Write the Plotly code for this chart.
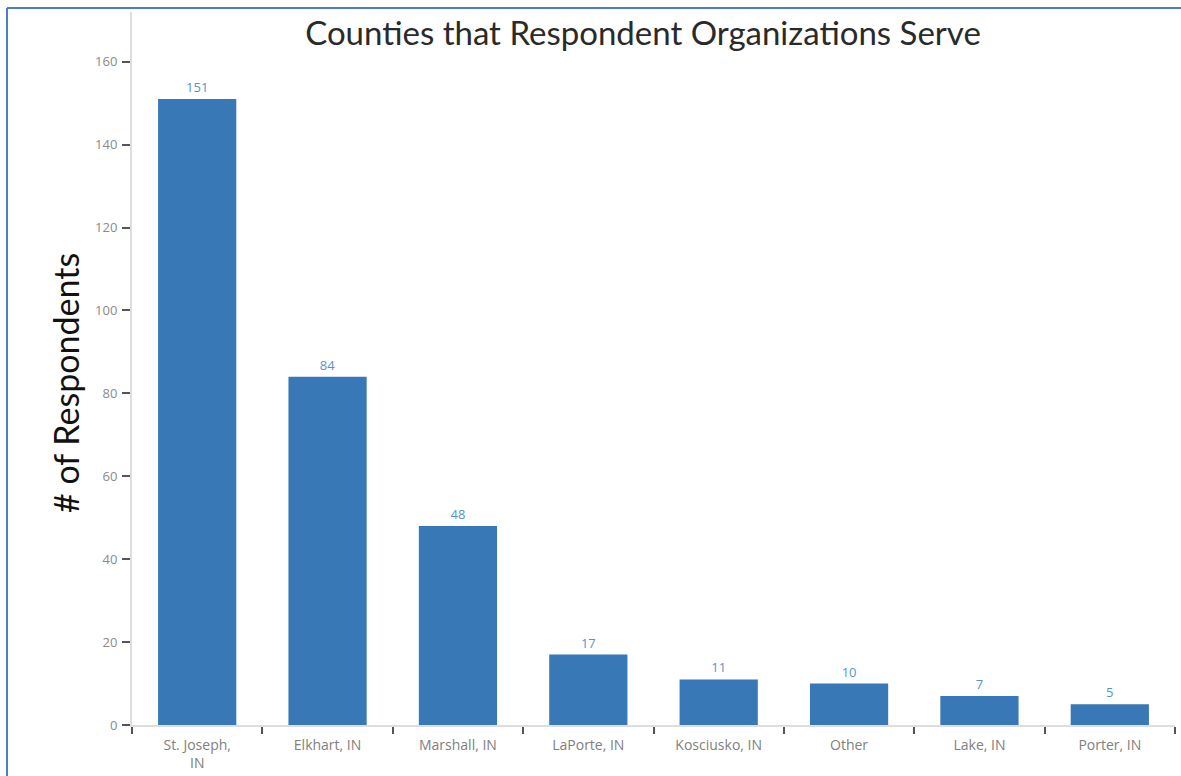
import plotly.graph_objects as go

# County counts from the respondent survey
counties = ["St. Joseph,<br>IN", "Elkhart, IN", "Marshall, IN", "LaPorte, IN",
            "Kosciusko, IN", "Other", "Lake, IN", "Porter, IN"]
respondents = [151, 84, 48, 17, 11, 10, 7, 5]
y_ticks = [0, 20, 40, 60, 80, 100, 120, 140, 160]

W, H = 1181, 776
ML, MR, MT, MB = 132, 6, 12, 51
plot_w = W - ML - MR
plot_h = H - MT - MB

def px_x(x):
    return (x - ML) / plot_w

def px_y(y):
    return (H - MB - y) / plot_h

fig = go.Figure(
    go.Bar(
        x=counties,
        y=respondents,
        marker=dict(color="#3878b6", line=dict(width=0)),
        width=0.6,
        text=[str(v) for v in respondents],
        textposition="outside",
        textfont=dict(family="Open Sans", size=13, color="#5592d4"),
        cliponaxis=False,
    )
)

fig.update_layout(
    width=W,
    height=H,
    margin=dict(l=ML, r=MR, t=MT, b=MB, autoexpand=False),
    plot_bgcolor="white",
    paper_bgcolor="white",
    showlegend=False,
    title=dict(
        text="Counties that Respondent Organizations Serve",
        font=dict(family="Lato", size=33, color="#2a2a2a"),
        x=643 / W,
        xanchor="center",
        y=1 - 33 / H,
        yanchor="middle",
    ),
    bargap=0.4,
)

fig.update_xaxes(
    range=[-0.5, len(counties) - 0.5],
    automargin=False,
    showline=True,
    linecolor="#dddddd",
    linewidth=2,
    ticks="outside",
    tickson="boundaries",
    ticklen=7,
    tickwidth=2,
    tickcolor="#555555",
    ticklabelstandoff=6,
    tickfont=dict(family="Open Sans", size=14, color="#808080"),
    showgrid=False,
    zeroline=False,
)

fig.update_yaxes(
    range=[0, 172],
    tickvals=y_ticks,
    automargin=False,
    showline=True,
    linecolor="#dddddd",
    linewidth=2,
    ticks="outside",
    ticklen=8,
    tickwidth=2,
    tickcolor="#555555",
    ticklabelstandoff=2,
    tickfont=dict(family="Open Sans", size=13, color="#8a8a8a"),
    showgrid=False,
    zeroline=False,
)

# vertical axis title drawn as rotated annotation
fig.add_annotation(
    text="# of Respondents",
    xref="paper", yref="paper",
    x=px_x(65), y=px_y(383),
    xanchor="center", yanchor="middle",
    showarrow=False,
    textangle=-90,
    font=dict(family="Lato", size=34, color="#111111"),
)

# blue frame on the top and left edges
frame = dict(color="#4a7fc4", width=2)
fig.add_shape(type="line", xref="paper", yref="paper",
              x0=px_x(7), x1=px_x(W), y0=px_y(8), y1=px_y(8), line=frame)
fig.add_shape(type="line", xref="paper", yref="paper",
              x0=px_x(7), x1=px_x(7), y0=px_y(8), y1=px_y(H), line=frame)

fig.write_html("out.html")
